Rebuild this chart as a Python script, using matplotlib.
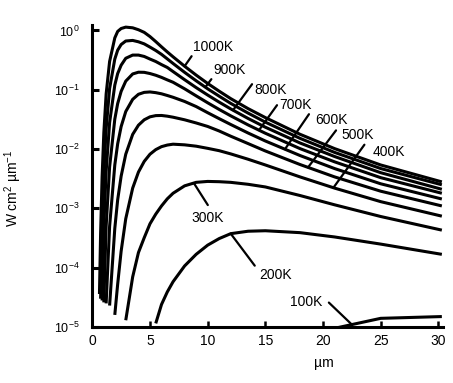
import numpy as np
import matplotlib
matplotlib.use('Agg')
import matplotlib.pyplot as plt
from matplotlib.ticker import FixedLocator, FuncFormatter, NullLocator

plt.rcParams['font.family'] = ['Liberation Sans', 'DejaVu Sans']
plt.rcParams['mathtext.fontset'] = 'custom'
plt.rcParams['mathtext.rm'] = 'Liberation Sans'
plt.rcParams['mathtext.it'] = 'Liberation Sans:italic'
plt.rcParams['mathtext.bf'] = 'Liberation Sans:bold'
plt.rcParams['axes.unicode_minus'] = False

nan = np.nan

# wavelength grid (um) shared by all curves, nan = curve not drawn there
wavelength = [0.62, 0.72, 0.85, 1.0, 1.2, 1.5, 1.95, 2.2, 2.5, 2.9, 3.5, 4, 4.5,
              5, 5.5, 6, 6.5, 7, 8, 9, 10, 11, 12, 13.5, 15, 18, 21, 25, 30.3]

# spectral exitance, W cm^-2 um^-1
m_1000 = [3.6e-5, 3.8e-4, 3.4e-3, 0.019, 0.085, 0.30, 0.75, 0.965, 1.08, 1.14,
          1.11, 1.03, 0.93, 0.79, 0.65, 0.53, 0.435, 0.36, 0.25, 0.177, 0.128,
          0.0947, 0.071, 0.0482, 0.034, 0.0178, 0.0102, 0.0054, 0.0028]
m_900 = [nan, 3.0e-5, 5.0e-4, 3.8e-3, 0.022, 0.105, 0.33, 0.466, 0.58, 0.665,
         0.68, 0.645, 0.595, 0.525, 0.46, 0.396, 0.332, 0.278, 0.197, 0.142,
         0.104, 0.078, 0.059, 0.0405, 0.0285, 0.0152, 0.0088, 0.0047, 0.0025]
m_800 = [nan, nan, 2.8e-5, 5.0e-4, 4.2e-3, 0.028, 0.12, 0.188, 0.26, 0.34, 0.385,
         0.385, 0.365, 0.33, 0.30, 0.266, 0.238, 0.203, 0.148, 0.109, 0.0816,
         0.0619, 0.0476, 0.0329, 0.0234, 0.0127, 0.0075, 0.0040, 0.0021]
m_700 = [nan, nan, nan, 2.6e-5, 5.0e-4, 5.0e-3, 0.032, 0.0586, 0.094, 0.14, 0.185,
         0.198, 0.197, 0.188, 0.176, 0.162, 0.147, 0.134, 0.104, 0.0791, 0.0604,
         0.0466, 0.0364, 0.0256, 0.0185, 0.0102, 0.0061, 0.0033, 0.0018]
m_600 = [nan] * 4 + [2.5e-5, 5.0e-4, 5.4e-3, 0.0123, 0.024, 0.043, 0.069, 0.084,
                     0.0905, 0.092, 0.0895, 0.0856, 0.0802, 0.0748, 0.0636, 0.0522,
                     0.0411, 0.0326, 0.026, 0.0187, 0.0137, 0.0078, 0.0047,
                     0.0026, 0.00144]
m_500 = [nan] * 5 + [2.3e-5, 4.6e-4, 1.4e-3, 3.5e-3, 8.2e-3, 0.0177, 0.0253,
                     0.0312, 0.035, 0.0367, 0.0369, 0.0359, 0.0345, 0.0312,
                     0.0276, 0.0241, 0.0202, 0.0165, 0.0124, 0.0093, 0.0055,
                     0.0034, 0.00195, 0.0011]
m_400 = [nan] * 6 + [1.6e-5, 5.3e-5, 1.9e-4, 6.7e-4, 2.2e-3, 4.1e-3, 6.2e-3,
                     8.2e-3, 9.8e-3, 0.011, 0.0117, 0.0121, 0.0118, 0.0112, 0.0103,
                     0.0094, 0.0083, 0.00675, 0.0054, 0.0034, 0.0022, 0.0013,
                     7.4e-4]
m_300 = [nan] * 9 + [1.3e-5, 7.0e-5, 1.8e-4, 3.2e-4, 5.5e-4, 8.0e-4, 1.1e-3,
                     1.45e-3, 1.8e-3, 2.4e-3, 2.75e-3, 2.85e-3, 2.82e-3, 2.75e-3,
                     2.55e-3, 2.3e-3, 1.65e-3, 1.15e-3, 7.3e-4, 4.3e-4]
m_200 = [nan] * 14 + [1.15e-5, 2.4e-5, 3.9e-5, 5.8e-5, 1.07e-4, 1.68e-4, 2.4e-4,
                      3.1e-4, 3.75e-4, 4.12e-4, 4.2e-4, 3.9e-4, 3.3e-4, 2.5e-4,
                      1.68e-4]
m_100 = [nan] * 26 + [9.5e-6, 1.4e-5, 1.5e-5]

curves = [m_1000, m_900, m_800, m_700, m_600, m_500, m_400, m_300, m_200, m_100]
labels = ['1000K', '900K', '800K', '700K', '600K', '500K', '400K', '300K',
          '200K', '100K']
# wavelength where each leader line touches its curve
label_wl = [8.0, 9.8, 12.2, 14.45, 16.7, 18.7, 20.9, 8.8, 12.0, 22.5]

x_ticks = [0, 5, 10, 15, 20, 25, 30]
y_ticks = [1e-5, 1e-4, 1e-3, 1e-2, 1e-1, 1e0]

# leader end / text placement, in pixels from the curve point
leader_off = [(7, 10), (6, 8), (19, 26), (18, 25), (24, 35), (28, 37), (31, 43),
              (14, -22), (24, -32), (-23, 22)]
text_off = [(8, 15), (8, 13), (21, 16), (20, 21), (30, 25), (33, 28), (39, 32),
            (-2, -39), (29, -45), (-29, 19)]
text_ha = ['left'] * 9 + ['right']

W, H = 453, 383
fig = plt.figure(figsize=(W / 100, H / 100), dpi=100)
ax = fig.add_axes([92.3 / W, 56 / H, 350.7 / W, 302 / H])

wl = np.array(wavelength)
for vals in curves:
    ax.plot(wl, vals, color='black', lw=2.2, solid_capstyle='butt',
            solid_joinstyle='round')

ax.set_yscale('log')
ax.set_xlim(0, 30.4)
ax.set_ylim(1e-5, 1.238)

for lab, lw_, lo, to, ha, vals in zip(labels, label_wl, leader_off, text_off,
                                      text_ha, curves):
    v = np.array(vals)
    ok = ~np.isnan(v)
    yv = 10 ** np.interp(lw_, wl[ok], np.log10(v[ok]))
    ax.annotate('', xy=(lw_, yv), xytext=lo, textcoords='offset pixels',
                arrowprops=dict(arrowstyle='-', lw=1.6, color='black',
                                shrinkA=0, shrinkB=0))
    ax.annotate(lab, xy=(lw_, yv), xytext=to, textcoords='offset pixels',
                ha=ha, va='baseline', fontsize=10)

for s in ['top', 'right']:
    ax.spines[s].set_visible(False)
for s in ['left', 'bottom']:
    ax.spines[s].set_linewidth(2.2)

ax.xaxis.set_major_locator(FixedLocator(x_ticks))
ax.yaxis.set_major_locator(FixedLocator(y_ticks))
ax.yaxis.set_minor_locator(NullLocator())
ax.yaxis.set_major_formatter(FuncFormatter(
    lambda v, p: r'$\mathregular{10^{%d}}$' % round(np.log10(v))))
ax.tick_params(axis='x', direction='in', length=4.5, width=1.8, labelsize=10, pad=5)
ax.tick_params(axis='y', direction='in', length=5, width=2.2, labelsize=9, pad=9)

ax.set_xlabel('µm', fontsize=10)
ax.xaxis.set_label_coords(0.66, -0.095)
ax.set_ylabel(r'W cm$^{2}$ µm$^{-1}$', fontsize=10)
ax.yaxis.set_label_coords(-0.195, 0.46)

fig.savefig('out.png', dpi=100)
